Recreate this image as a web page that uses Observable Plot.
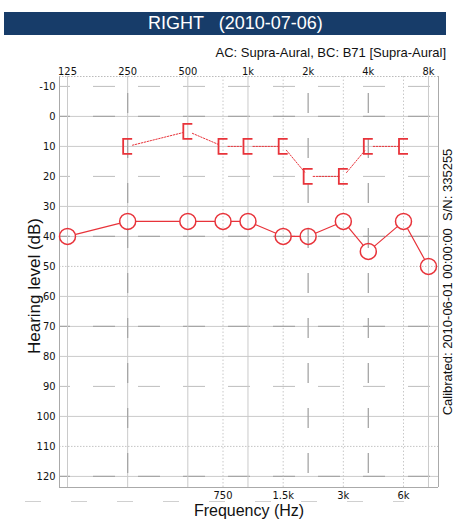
<!DOCTYPE html>
<html><head><meta charset="utf-8">
<script src="https://cdn.jsdelivr.net/npm/d3@7"></script>
<script src="https://cdn.jsdelivr.net/npm/@observablehq/plot@0.6"></script>
<style>
body{margin:0;background:#fff;font-family:'Liberation Sans',Arial,sans-serif;}
#wrap{width:455px;}
#head{position:relative;height:55px;}
#bar{position:absolute;left:4px;top:12px;width:442px;height:23px;background:#173c69;}
#title{position:absolute;left:148px;top:12px;line-height:23px;font-size:18px;color:#fff;white-space:pre;}
#sub{position:absolute;right:9px;top:45px;line-height:15px;font-size:13px;color:#111;white-space:pre;}
#chart svg{display:block;}
</style></head><body>
<div id="wrap"><div id="head"><div id="bar"></div><div id="title"></div><div id="sub"></div></div><div id="chart"></div></div>
<script>
const titleText = "RIGHT   (2010-07-06)";
const subtitleText = "AC: Supra-Aural, BC: B71 [Supra-Aural]";
const calibrationText = "Calibrated: 2010-06-01 00:00:00\u00a0\u00a0S/N: 335255";
const xLabel = "Frequency (Hz)";
const yLabel = "Hearing level (dB)";

const acFreqs = [125, 250, 500, 750, 1000, 1500, 2000, 3000, 4000, 6000, 8000];
const acLevels = [40, 35, 35, 35, 35, 40, 40, 35, 45, 35, 50];
const bcFreqs = [250, 500, 750, 1000, 1500, 2000, 3000, 4000, 6000];
const bcLevels = [10, 5, 10, 10, 10, 20, 20, 10, 10];

const octaveTicks = [125, 250, 500, 1000, 2000, 4000, 8000];
const octaveLabels = ["125", "250", "500", "1k", "2k", "4k", "8k"];
const midTicks = [750, 1500, 3000, 6000];
const midLabels = ["750", "1.5k", "3k", "6k"];
const levelTicks = [-10, 0, 10, 20, 30, 40, 50, 60, 70, 80, 90, 100, 110, 120];

const hSolid = [0, 10, 30, 40, 60, 70, 80, 100, 120];
const hDotted = [50, 110];
const hDashed = [-10, 20, 90];
const hDark = [0, 40, 70, 120];
const vSolid = [125, 250, 500, 1000, 8000];
const vDark = [250, 2000, 4000];
const vDotted = [750, 1500, 3000, 6000];

const xDomain = [114, 8980];
const yDomain = [-13.3, 123.7];

document.getElementById("title").textContent = titleText;
document.getElementById("sub").textContent = subtitleText;

const red = "#e8333a";
const ac = acFreqs.map((f, i) => ({f, l: acLevels[i]}));
const bc = bcFreqs.map((f, i) => ({f, l: bcLevels[i]}));
const seg = arr => d3.pairs(arr).map(([a, b]) => ({x1: a.f, y1: a.l, x2: b.f, y2: b.l}));
const bracket = {
  draw(ctx, size) {
    const r = Math.sqrt(size / Math.PI);
    const w = r * 0.6;
    ctx.moveTo(w, -r); ctx.lineTo(-w, -r); ctx.lineTo(-w, r); ctx.lineTo(w, r);
  }
};
const lab = (ticks, labels) => d => labels[ticks.indexOf(d)];
const sans = "'Liberation Sans', Arial, sans-serif";

const chart = Plot.plot({
  width: 455, height: 465,
  marginTop: 21, marginBottom: 33, marginLeft: 59, marginRight: 17,
  x: {type: "log", domain: xDomain, axis: null},
  y: {domain: yDomain, reverse: true, axis: null},
  style: {fontFamily: "'DejaVu Sans Condensed', 'DejaVu Sans', sans-serif", fontSize: "11px", color: "#111", background: "#fff"},
  marks: [
    Plot.ruleY(hSolid, {stroke: "#cacaca"}),
    Plot.ruleY(hDotted, {stroke: "#c4c4c4", strokeDasharray: "1.5,1.5"}),
    Plot.ruleY(hDashed, {stroke: "#bdbdbd", strokeDasharray: "22,23", strokeDashoffset: 11}),
    Plot.ruleY(hDark, {stroke: "#a6a6a6", strokeWidth: 1.3, strokeDasharray: "22,23", strokeDashoffset: 11}),
    Plot.ruleX(vSolid, {stroke: "#cacaca"}),
    Plot.ruleX(vDotted, {stroke: "#c8c8c8", strokeDasharray: "1.5,2"}),
    Plot.ruleX(vDark, {stroke: "#a6a6a6", strokeWidth: 1.3, strokeDasharray: "20,25", strokeDashoffset: 28}),
    Plot.ruleX(xDomain, {stroke: "#aaa"}),
    Plot.ruleY([yDomain[1]], {stroke: "#aaa"}),
    Plot.ruleY([yDomain[0]], {stroke: "#bbb", strokeDasharray: "1.5,1.5"}),
    Plot.ruleY([yDomain[1]], {dy: 14, dx: -34, stroke: "#d0d0d0", strokeDasharray: "16,30"}),
    Plot.arrow(seg(bc), {x1: "x1", y1: "y1", x2: "x2", y2: "y2", bend: 0, headLength: 0, insetStart: 5, insetEnd: 5, stroke: red, strokeWidth: 1, strokeDasharray: "1.5,1.5"}),
    Plot.arrow(seg(ac), {x1: "x1", y1: "y1", x2: "x2", y2: "y2", bend: 0, headLength: 0, inset: 8.5, stroke: red, strokeWidth: 1.2}),
    Plot.dot(ac, {x: "f", y: "l", r: 8, stroke: red, strokeWidth: 1.5, fill: "none"}),
    Plot.dot(bc, {x: "f", y: "l", r: 7.5, symbol: bracket, stroke: red, strokeWidth: 1.8, fill: "none"}),
    Plot.text(octaveTicks, {x: d => d, text: lab(octaveTicks, octaveLabels), frameAnchor: "top", lineAnchor: "bottom", dy: -2, fill: "#111"}),
    Plot.text(midTicks, {x: d => d, text: lab(midTicks, midLabels), frameAnchor: "bottom", lineAnchor: "top", dy: 4, fill: "#111"}),
    Plot.text(levelTicks, {y: d => d, text: d => String(d), frameAnchor: "left", textAnchor: "end", dx: -4, fill: "#111"}),
    Plot.text([xLabel], {text: d => d, frameAnchor: "bottom", textAnchor: "middle", lineAnchor: "middle", dy: 23, fontSize: 16, fontFamily: sans, fill: "#111"}),
    Plot.text([yLabel], {text: d => d, frameAnchor: "left", textAnchor: "middle", rotate: -90, dx: -25, dy: 4, fontSize: 17, fontFamily: sans, fill: "#111"}),
    Plot.text([calibrationText], {text: d => d, frameAnchor: "right", textAnchor: "middle", rotate: -90, dx: 9, fontSize: 13, fontFamily: sans, fill: "#111"})
  ]
});
document.getElementById("chart").appendChild(chart);
</script>
</body></html>
